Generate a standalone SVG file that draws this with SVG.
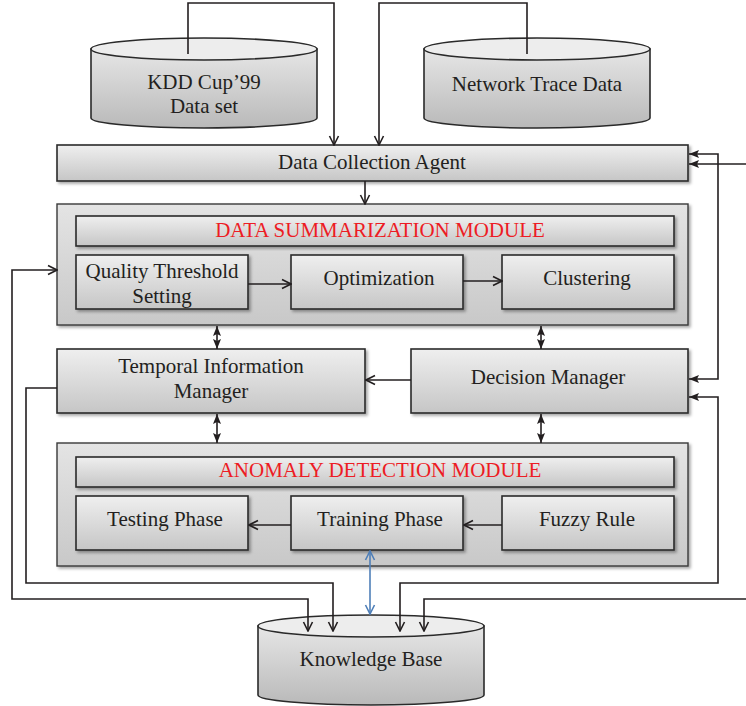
<svg xmlns="http://www.w3.org/2000/svg" width="746" height="706" viewBox="0 0 746 706">
<defs>
<style>
text{font-family:"Liberation Serif","Times New Roman",serif;font-size:21px;fill:#231f20;text-anchor:middle}
.title{fill:#ed1c24;font-size:21px}
.box{fill:url(#gBox);stroke:#2a2a2a;stroke-width:1.6;filter:url(#sh)}
.mod{fill:url(#gMod);stroke:#3a3a3a;stroke-width:1.4;filter:url(#sh)}
.cylb{fill:url(#gCyl);stroke:#2a2a2a;stroke-width:1.6}
.cylt{fill:#ededed;stroke:#2a2a2a;stroke-width:1.6}
.ln{fill:none;stroke:#231f20;stroke-width:1.6}
.blue{fill:none;stroke:#4f7fb8;stroke-width:1.6}
</style>
<linearGradient id="gBox" x1="0" y1="0" x2="0" y2="1"><stop offset="0" stop-color="#efefef"/><stop offset="1" stop-color="#c6c6c6"/></linearGradient>
<linearGradient id="gMod" x1="0" y1="0" x2="0" y2="1"><stop offset="0" stop-color="#e4e4e4"/><stop offset="1" stop-color="#c8c8c8"/></linearGradient>
<linearGradient id="gCyl" x1="0" y1="0" x2="0" y2="1"><stop offset="0" stop-color="#e6e6e6"/><stop offset="1" stop-color="#b9b9b9"/></linearGradient>
<filter id="sh" x="-5%" y="-5%" width="112%" height="120%"><feDropShadow dx="2" dy="2" stdDeviation="1.5" flood-color="#000" flood-opacity="0.35"/></filter>
<marker id="open" markerUnits="userSpaceOnUse" markerWidth="12" markerHeight="12" viewBox="0 0 12 12" refX="11" refY="6" orient="auto-start-reverse"><path d="M2,1.5 L11,6 L2,10.5" fill="none" stroke="#231f20" stroke-width="1.6"/></marker>
<marker id="fill" markerUnits="userSpaceOnUse" markerWidth="12" markerHeight="12" viewBox="0 0 12 12" refX="11" refY="6" orient="auto-start-reverse"><path d="M1,2 L11,6 L1,10 L3,6 Z" fill="#231f20"/></marker>
<marker id="blueOpen" markerUnits="userSpaceOnUse" markerWidth="12" markerHeight="12" viewBox="0 0 12 12" refX="11" refY="6" orient="auto-start-reverse"><path d="M2,1.5 L11,6 L2,10.5" fill="none" stroke="#4f7fb8" stroke-width="1.6"/></marker>
</defs>

<g id="kdd">
<path class="cylb" d="M91,49 L91,118 A113,10 0 0 0 317,118 L317,49 Z"/>
<ellipse class="cylt" cx="204" cy="49" rx="113" ry="11"/>
<text x="204" y="89">KDD Cup’99</text>
<text x="204" y="113">Data set</text>
</g>

<g id="network-trace">
<path class="cylb" d="M424,49 L424,118 A113,10 0 0 0 650,118 L650,49 Z"/>
<ellipse class="cylt" cx="537" cy="49" rx="113" ry="11"/>
<text x="537" y="91">Network Trace Data</text>
</g>

<g id="data-collection">
<rect class="box" x="57" y="145" width="631" height="36"/>
<text x="372" y="169">Data Collection Agent</text>
</g>

<g id="dsm">
<rect class="mod" x="57" y="204" width="631" height="121"/>
<rect class="box" x="76" y="216" width="598" height="30"/>
<text class="title" x="380" y="237">DATA SUMMARIZATION MODULE</text>
</g>
<g id="quality">
<rect class="box" x="76" y="255" width="172" height="54"/>
<text x="162" y="278">Quality Threshold</text>
<text x="162" y="303">Setting</text>
</g>
<g id="optimization">
<rect class="box" x="291" y="255" width="172" height="54"/>
<text x="379" y="285">Optimization</text>
</g>
<g id="clustering">
<rect class="box" x="502" y="255" width="172" height="54"/>
<text x="587" y="285">Clustering</text>
</g>

<g id="temporal">
<rect class="box" x="57" y="349" width="308" height="64"/>
<text x="211" y="373">Temporal Information</text>
<text x="211" y="398">Manager</text>
</g>
<g id="decision">
<rect class="box" x="411" y="349" width="277" height="64"/>
<text x="548" y="384">Decision Manager</text>
</g>

<g id="adm">
<rect class="mod" x="57" y="443" width="631" height="123"/>
<rect class="box" x="76" y="457" width="598" height="30"/>
<text class="title" x="380" y="477">ANOMALY DETECTION MODULE</text>
</g>
<g id="testing">
<rect class="box" x="76" y="496" width="172" height="54"/>
<text x="165" y="526">Testing Phase</text>
</g>
<g id="training">
<rect class="box" x="291" y="496" width="172" height="54"/>
<text x="380" y="526">Training Phase</text>
</g>
<g id="fuzzy">
<rect class="box" x="502" y="496" width="172" height="54"/>
<text x="587" y="526">Fuzzy Rule</text>
</g>

<g id="knowledge-base">
<path class="cylb" d="M258,626 L258,695 A113,10 0 0 0 484,695 L484,626 Z"/>
<ellipse class="cylt" cx="371" cy="626" rx="113" ry="11"/>
<text x="371" y="666">Knowledge Base</text>
</g>

<g id="connectors">
<path class="ln" marker-end="url(#open)" d="M188,54 L188,3 L334,3 L334,145"/>
<path class="ln" marker-end="url(#open)" d="M527,54 L527,3 L379,3 L379,145"/>
<path class="ln" marker-end="url(#open)" d="M365,181 L365,204"/>
<path class="ln" marker-end="url(#open)" d="M248,284 L291,284"/>
<path class="ln" marker-end="url(#open)" d="M463,281 L502,281"/>
<path class="ln" marker-start="url(#fill)" marker-end="url(#fill)" d="M217,326 L217,349"/>
<path class="ln" marker-start="url(#fill)" marker-end="url(#fill)" d="M541,326 L541,349"/>
<path class="ln" marker-end="url(#open)" d="M411,380 L366,380"/>
<path class="ln" marker-start="url(#fill)" marker-end="url(#fill)" d="M217,414 L217,443"/>
<path class="ln" marker-start="url(#fill)" marker-end="url(#fill)" d="M541,414 L541,443"/>
<path class="ln" marker-end="url(#open)" d="M502,525 L464,525"/>
<path class="ln" marker-end="url(#open)" d="M291,525 L249,525"/>
<path class="blue" marker-start="url(#blueOpen)" marker-end="url(#blueOpen)" d="M370,551 L370,614"/>
<path class="ln" marker-start="url(#fill)" marker-end="url(#fill)" d="M689,154 L718,154 L718,379 L689,379"/>
<path class="ln" marker-end="url(#fill)" d="M746,164 L689,164"/>
<path class="ln" marker-start="url(#fill)" marker-end="url(#open)" d="M689,397 L718,397 L718,583 L400,583 L400,631"/>
<path class="ln" marker-end="url(#open)" d="M746,599 L424,599 L424,631"/>
<path class="ln" marker-start="url(#open)" marker-end="url(#open)" d="M57,270 L12,270 L12,599 L308,599 L308,631"/>
<path class="ln" marker-end="url(#open)" d="M57,388 L26,388 L26,583 L333,583 L333,631"/>
</g>
</svg>
